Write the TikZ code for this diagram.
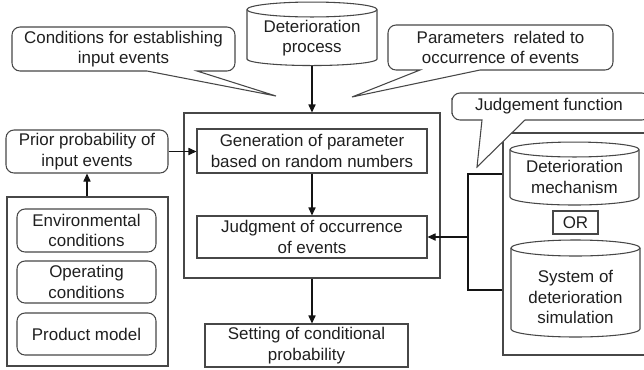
\documentclass[tikz,border=0pt]{standalone}
\usepackage{fontspec}
\setmainfont{Liberation Sans}
\usetikzlibrary{arrows.meta}
\begin{document}
\begin{tikzpicture}[x=0.75pt,y=-0.75pt,
  font=\fontsize{12.7pt}{15.3pt}\selectfont,
  every node/.style={text=black!88, align=center, inner sep=0pt},
  line/.style={draw=black!72, line width=0.8pt},
  box/.style={line, rectangle},
  rbox/.style={box, rounded corners=6pt},
  arr/.style={draw=black!92, line width=0.8pt, -{Triangle[length=6pt,width=5.4pt]}},
  link/.style={draw=black!92, line width=0.8pt},
  callout/.style={line, fill=white},
  drum/.style={line, fill=white}]
\useasboundingbox (0,0) rectangle (644,369);
\clip (0,0) rectangle (644,369);

% ---- central simulation block ----
\node[box, minimum width=192pt, minimum height=123.75pt] (core) at (312,195.5) {};
\node[box, minimum width=172.5pt, minimum height=33pt] (gen) at (312,151)
  {Generation of parameter\\based on random numbers};
\node[box, minimum width=172.5pt, minimum height=31.5pt] (judg) at (312,237)
  {Judgment of occurrence\\of events};
\node[box, minimum width=152.25pt, minimum height=32.25pt] (set) at (306.5,345.5)
  {Setting of conditional\\probability};

% ---- deterioration process drum ----
\draw[drum] (247,9.5) -- (247,59) arc[start angle=180, end angle=360, x radius=48.75pt, y radius=4.9pt] -- (377,9.5);
\draw[drum] (312,9.5) ellipse[x radius=48.75pt, y radius=5.6pt];
\node (dp) at (312,38) {Deterioration\\process};
\coordinate (dpb) at (312,65.5);

% ---- input side ----
\node[rbox, minimum width=121.5pt, minimum height=32.25pt] (prior) at (87,151.5)
  {Prior probability of\\input events};
\node[box, minimum width=120.75pt, minimum height=126.75pt] (left) at (87.5,281.5) {};
\node[rbox, minimum width=104.25pt, minimum height=32.25pt] (env) at (86.5,230.5)
  {Environmental\\conditions};
\node[rbox, minimum width=104.25pt, minimum height=31.5pt] (op) at (86.5,282)
  {Operating\\conditions};
\node[rbox, minimum width=104.25pt, minimum height=31.5pt] (prod) at (86.5,334)
  {Product model};

% ---- judgement function block ----
\node[box, minimum width=117.75pt, minimum height=166.5pt] (rb) at (581.5,244) {};
\draw[drum] (510,149.5) -- (510,197) arc[start angle=180, end angle=360, x radius=48.375pt, y radius=6pt] -- (639,149.5);
\draw[drum] (574.5,149.5) ellipse[x radius=48.375pt, y radius=5.6pt];
\node (mech) at (574.5,177) {Deterioration\\mechanism};
\node[box, minimum width=33.75pt, minimum height=17.25pt] (or) at (575.5,222.5) {OR};
\draw[drum] (511,248) -- (511,329) arc[start angle=180, end angle=360, x radius=48.375pt, y radius=6pt] -- (640,248);
\draw[drum] (575.5,248) ellipse[x radius=48.375pt, y radius=6pt];
\node (sim) at (575.5,297) {System of\\deterioration\\simulation};

% ---- callouts ----
\draw[callout] (12,49) [rounded corners=6pt] -- (12,27) -- (235,27) -- (235,71)
  [sharp corners] -- (197,71) -- (276,96) -- (147,71)
  [rounded corners=6pt] -- (12,71) -- cycle;
\node (c1) at (123.5,49) {Conditions for establishing\\input events};

\draw[callout] (388,47) [rounded corners=6pt] -- (388,25) -- (613,25) -- (613,70)
  [sharp corners] -- (480,70) -- (352,97) -- (420,70)
  [rounded corners=6pt] -- (388,70) -- cycle;
\node (c2) at (500.5,47.5) {Parameters~ related to\\occurrence of events};

\draw[callout] (452,106) [rounded corners=6pt] -- (452,93) -- (650,93) -- (650,120)
  [sharp corners] -- (525,120) -- (477,167) -- (482,120)
  [rounded corners=6pt] -- (452,120) -- cycle;
\node (c3) at (549,106.5) {Judgement function};

% ---- connectors ----
\draw[arr] (dpb) -- (core.north);
\draw[arr] (gen) -- (judg);
\draw[arr] (core.south) -- (core.south |- set.north);
\draw[arr] (prior.east) -- (prior.east -| gen.west);
\draw[arr] (left.north -| prior.south) -- (prior.south);
\coordinate (bt) at (468,174);
\coordinate (bb) at (468,290);
\coordinate (bm) at (468,237);
\draw[link] (rb.west |- bt) -- (bt) -- (bb) -- (rb.west |- bb);
\draw[arr] (bm) -- (judg.east);
\end{tikzpicture}
\end{document}
